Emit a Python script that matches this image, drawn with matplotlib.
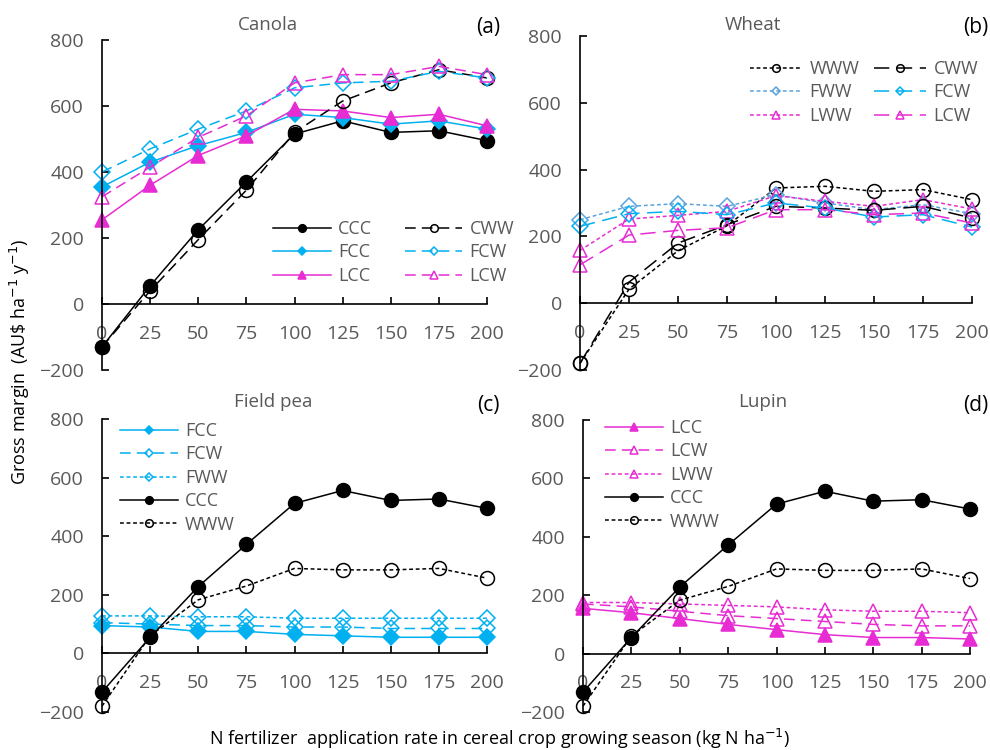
import numpy as np
import matplotlib
matplotlib.use("Agg")
import matplotlib.pyplot as plt

plt.rcParams['font.family'] = ['Open Sans', 'DejaVu Sans']

rate = [0, 25, 50, 75, 100, 125, 150, 175, 200]

# Canola
can_ccc = [-130, 55, 225, 370, 515, 555, 520, 525, 495]
can_cww = [-130, 40, 195, 345, 520, 615, 670, 710, 685]
can_fcc = [355, 430, 480, 520, 575, 565, 545, 555, 530]
can_fcw = [400, 470, 530, 585, 655, 670, 675, 705, 685]
can_lcc = [255, 360, 450, 510, 590, 585, 565, 575, 540]
can_lcw = [325, 415, 505, 570, 670, 695, 695, 720, 695]

# Wheat
wht_www = [-180, 42, 157, 232, 345, 350, 335, 340, 310]
wht_cww = [-180, 63, 180, 235, 290, 285, 278, 290, 255]
wht_fww = [250, 290, 298, 290, 325, 300, 280, 295, 268]
wht_fcw = [230, 268, 275, 265, 300, 285, 258, 265, 228]
wht_lww = [158, 252, 263, 275, 322, 305, 290, 310, 282]
wht_lcw = [115, 204, 218, 226, 280, 280, 265, 270, 240]

# continuous cereal references used in (c) and (d)
ref_ccc = [-132, 55, 228, 372, 512, 556, 522, 527, 495]
ref_www = [-180, 60, 183, 230, 290, 285, 285, 290, 257]

# Field pea
pea_fcc = [95, 90, 75, 75, 65, 60, 55, 55, 55]
pea_fcw = [105, 100, 95, 95, 90, 90, 85, 85, 85]
pea_fww = [128, 128, 125, 125, 120, 120, 120, 120, 120]

# Lupin
lup_lcc = [155, 140, 120, 100, 82, 65, 55, 55, 50]
lup_lcw = [170, 160, 145, 130, 120, 110, 100, 95, 95]
lup_lww = [175, 175, 170, 165, 160, 150, 145, 145, 140]

BLACK = '#000000'
CYAN = '#00B0F0'
LBLUE = '#5BA3DC'
MAG = '#E62CD2'
GREY = '#595959'

SOLID = '-'
DASH = (0, (7, 4))
LDASH = (0, (10, 5))
DOT = (0, (2.5, 1.8))

W, H = 990, 750
fig = plt.figure(figsize=(9.9, 7.5), dpi=100)


def make_ax(left, top, right, bottom):
    ax = fig.add_axes([left / W, 1 - bottom / H, (right - left) / W, (bottom - top) / H])
    ax.set_xlim(0, 200)
    ax.set_ylim(-200, 800)
    ax.spines['top'].set_visible(False)
    ax.spines['right'].set_visible(False)
    ax.spines['bottom'].set_position(('data', 0))
    ax.spines['left'].set_linewidth(1.2)
    ax.spines['bottom'].set_linewidth(1.2)
    ax.set_xticks(rate)
    ax.set_yticks(np.arange(-200, 801, 200))
    ax.tick_params(axis='both', direction='in', length=5, width=1.2,
                   labelsize=14, labelcolor=GREY)
    ax.tick_params(axis='x', pad=15)
    ax.tick_params(axis='y', pad=13)
    return ax


def series(ax, y, color, ls, marker, filled, label, ms=9):
    fc = color if filled else 'none'
    ax.plot(rate, y, color=color, linestyle=ls, linewidth=1.1, marker=marker,
            markersize=ms, markerfacecolor=fc, markeredgecolor=color,
            markeredgewidth=1.1, label=label, clip_on=False)


def legend(ax, x, y, ncol, colsp=2.0, hlen=3.2):
    ax.legend(loc='upper left', bbox_to_anchor=(x / W, 1 - y / H),
              bbox_transform=fig.transFigure, ncol=ncol, frameon=False,
              fontsize=13, labelcolor=GREY, markerscale=0.55,
              handlelength=hlen, handletextpad=0.4, columnspacing=colsp,
              labelspacing=0.3, borderpad=0, borderaxespad=0)


# (a) Canola
ax1 = make_ax(102, 40, 487, 370)
series(ax1, can_ccc, BLACK, SOLID, 'o', True, 'CCC', 10)
series(ax1, can_fcc, CYAN, SOLID, 'D', True, 'FCC', 8)
series(ax1, can_lcc, MAG, SOLID, '^', True, 'LCC', 10)
series(ax1, can_cww, BLACK, DASH, 'o', False, 'CWW', 10)
series(ax1, can_fcw, CYAN, DASH, 'D', False, 'FCW', 8)
series(ax1, can_lcw, MAG, DASH, '^', False, 'LCW', 10)
legend(ax1, 273, 220, 2, colsp=1.8)

# (b) Wheat
ax2 = make_ax(580, 36, 972, 370)
series(ax2, wht_www, BLACK, DOT, 'o', False, 'WWW', 10)
series(ax2, wht_fww, LBLUE, DOT, 'D', False, 'FWW', 8)
series(ax2, wht_lww, MAG, DOT, '^', False, 'LWW', 10)
series(ax2, wht_cww, BLACK, LDASH, 'o', False, 'CWW', 10)
series(ax2, wht_fcw, CYAN, LDASH, 'D', False, 'FCW', 8)
series(ax2, wht_lcw, MAG, LDASH, '^', False, 'LCW', 10)
legend(ax2, 750, 60, 2, colsp=0.8, hlen=2.9)

# (c) Field pea
ax3 = make_ax(102, 419, 487, 712)
series(ax3, pea_fcc, CYAN, SOLID, 'D', True, 'FCC', 8)
series(ax3, pea_fcw, CYAN, DASH, 'D', False, 'FCW', 8)
series(ax3, pea_fww, CYAN, DOT, 'D', False, 'FWW', 8)
series(ax3, ref_ccc, BLACK, SOLID, 'o', True, 'CCC', 10)
series(ax3, ref_www, BLACK, DOT, 'o', False, 'WWW', 10)
legend(ax3, 120, 422, 1)

# (d) Lupin
ax4 = make_ax(583, 420, 970, 712)
series(ax4, lup_lcc, MAG, SOLID, '^', True, 'LCC', 10)
series(ax4, lup_lcw, MAG, DASH, '^', False, 'LCW', 10)
series(ax4, lup_lww, MAG, DOT, '^', False, 'LWW', 10)
series(ax4, ref_ccc, BLACK, SOLID, 'o', True, 'CCC', 10)
series(ax4, ref_www, BLACK, DOT, 'o', False, 'WWW', 10)
legend(ax4, 605, 419, 1)

# panel titles and letters
titles = ['Canola', 'Wheat', 'Field pea', 'Lupin']
letters = ['(a)', '(b)', '(c)', '(d)']
title_xy = [(268, 25), (753, 25), (273, 402), (763, 402)]
letter_xy = [(500, 28), (988, 28), (500, 405), (988, 405)]
for t, (tx, ty) in zip(titles, title_xy):
    fig.text(tx / W, 1 - ty / H, t, ha='center', va='center', fontsize=13.5, color=GREY)
for l, (lx, ly) in zip(letters, letter_xy):
    fig.text(lx / W, 1 - ly / H, l, ha='right', va='center', fontsize=15, color='black')

fig.text(20 / W, 1 - 362 / H, 'Gross margin  (AU\\$ ha$^{-1}$ y$^{-1}$)',
         rotation=90, ha='center', va='center', fontsize=13)
fig.text(500 / W, 1 - 745 / H,
         'N fertilizer  application rate in cereal crop growing season (kg N ha$^{-1}$)',
         ha='center', va='baseline', fontsize=13)

plt.savefig('out.png', dpi=100)
